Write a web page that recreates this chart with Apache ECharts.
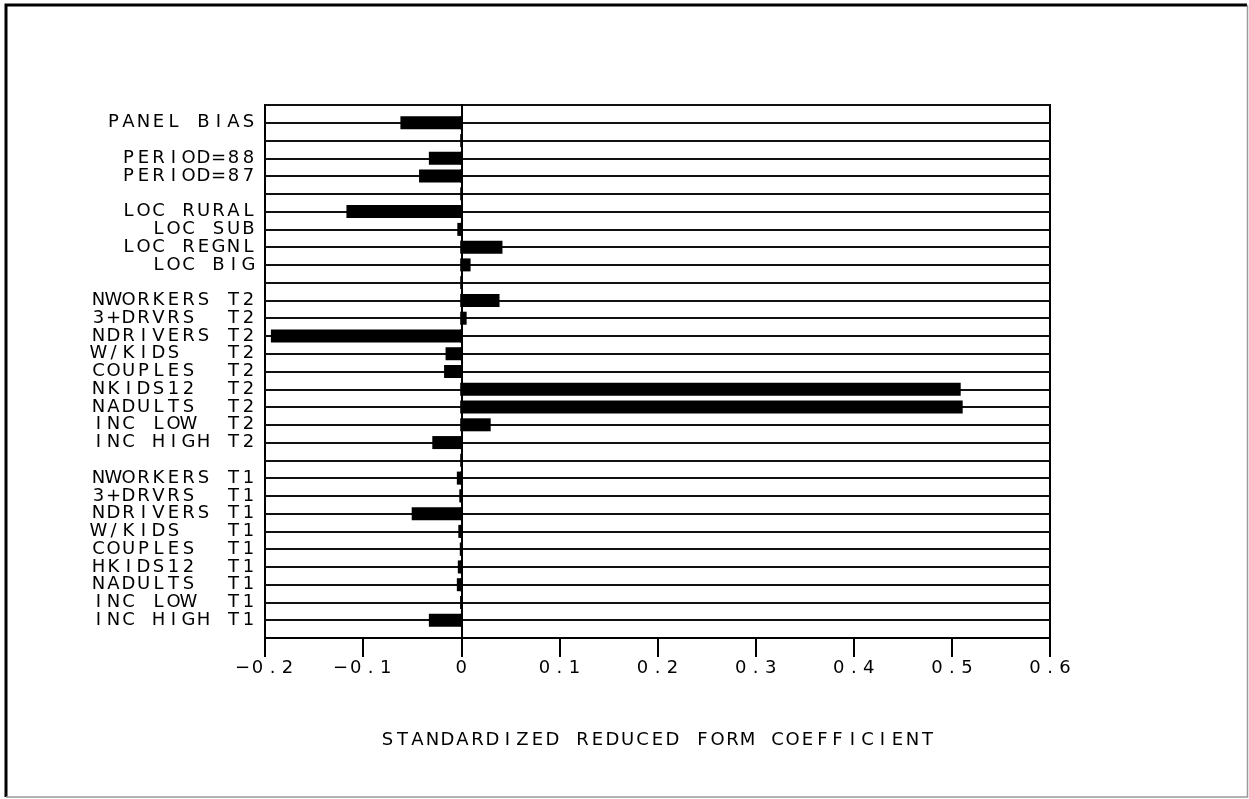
<!DOCTYPE html>
<html>
<head>
<meta charset="utf-8">
<script src="https://cdn.jsdelivr.net/npm/echarts@6/dist/echarts.min.js"></script>
<style>
  html, body { margin: 0; padding: 0; background: #fff; }
  #chart { width: 1249px; height: 799px; }
</style>
</head>
<body>
<div id="chart"></div>
<script>
// rows top to bottom, '' = empty spacer row
const rowLabels = [
  'PANEL BIAS', '',
  'PERIOD=88', 'PERIOD=87', '',
  'LOC RURAL', 'LOC SUB', 'LOC REGNL', 'LOC BIG', '',
  'NWORKERS T2', '3+DRVRS  T2', 'NDRIVERS T2', 'W/KIDS   T2', 'COUPLES  T2',
  'NKIDS12  T2', 'NADULTS  T2', 'INC LOW  T2', 'INC HIGH T2', '',
  'NWORKERS T1', '3+DRVRS  T1', 'NDRIVERS T1', 'W/KIDS   T1', 'COUPLES  T1',
  'HKIDS12  T1', 'NADULTS  T1', 'INC LOW  T1', 'INC HIGH T1'
]
const coefValues = [
  -0.062, null,
  -0.033, -0.043, null,
  -0.117, -0.004, 0.042, 0.0095, null,
  0.039, 0.0055, -0.194, -0.016, -0.0175,
  0.509, 0.511, 0.030, -0.0295, null,
  -0.0045, -0.002, -0.0505, -0.003, -0.0015,
  -0.0035, -0.0045, -0.001, -0.033
]
const xTicks = [-0.2, -0.1, 0, 0.1, 0.2, 0.3, 0.4, 0.5, 0.6]
const xTitle = 'STANDARDIZED REDUCED FORM COEFFICIENT'

// one empty slot above and below, so the frame sits a full row away
const labels = [''].concat(rowLabels, [''])
const values = [null].concat(coefValues, [null])
const categories = labels.map((_, i) => String(i))
const zeroMarks = rowLabels.map((_, i) => [0, i + 1])

// fixed-pitch text: every character gets its own cell
function mono(s) {
  return s.split('').map((ch) => '{c|' + ch + '}').join('')
}
const cell = { width: 15, align: 'center', fontSize: 18, lineHeight: 18, fontFamily: 'DejaVu Sans', color: '#000' }

const chart = echarts.init(document.getElementById('chart'))
chart.setOption({
  animation: false,
  backgroundColor: '#fff',
  grid: {
    left: 265,
    right: 199,
    top: 105,
    bottom: 161,
    show: true,
    borderColor: '#000',
    borderWidth: 2,
  },
  xAxis: {
    type: 'value',
    min: -0.2,
    max: 0.6,
    interval: 0.1,
    name: mono(xTitle),
    nameLocation: 'middle',
    nameGap: 93,
    nameTextStyle: { rich: { c: cell } },
    axisLine: { show: true, onZero: false, lineStyle: { color: '#000', width: 2 } },
    axisTick: { show: true, length: 19, lineStyle: { color: '#000', width: 2 } },
    axisLabel: {
      margin: 21,
      formatter: (v) => {
        const t = xTicks.find((x) => Math.abs(x - v) < 1e-9)
        const s = String(t === undefined ? +v.toFixed(1) : t)
        return mono(s.replace('-', '\u2212'))
      },
      rich: { c: cell },
    },
    splitLine: { show: false },
  },
  yAxis: {
    type: 'category',
    data: categories,
    inverse: true,
    boundaryGap: false,
    axisLine: { show: true, lineStyle: { color: '#000', width: 2 } },
    axisTick: { show: false },
    axisLabel: {
      interval: 0,
      margin: 9,
      formatter: (v, i) => mono(labels[i]),
      rich: { c: cell },
    },
    splitLine: { show: true, interval: 0, lineStyle: { color: '#111', width: 2 } },
  },
  series: [
    {
      type: 'scatter',
      data: zeroMarks,
      symbol: 'rect',
      symbolSize: [2.5, 13],
      itemStyle: { color: '#000' },
      silent: true,
      z: 2,
    },
    {
      type: 'bar',
      data: values,
      barWidth: 13,
      itemStyle: { color: '#000' },
      z: 3,
    },
  ],
  graphic: [
    { type: 'polyline', shape: { points: [[6, 797], [6, 5], [1247, 5]] }, style: { stroke: '#000', lineWidth: 3, fill: null } },
    { type: 'polyline', shape: { points: [[1247.5, 5], [1247.5, 797], [6, 797]] }, style: { stroke: '#999', lineWidth: 1.5, fill: null } },
  ],
})
</script>
</body>
</html>
